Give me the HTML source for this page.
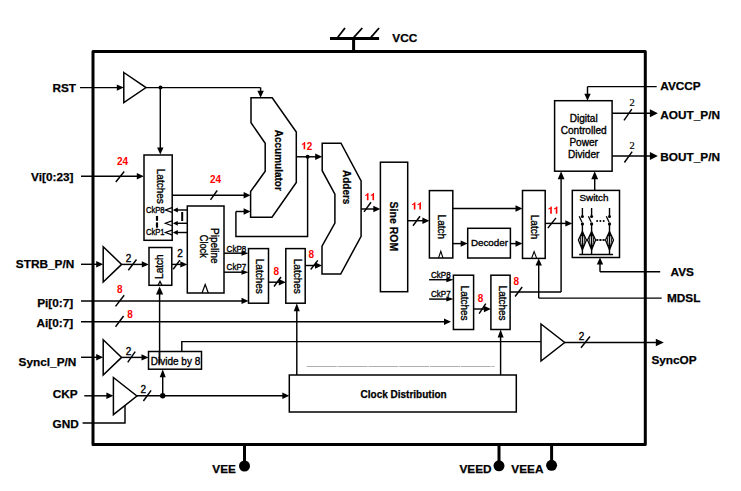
<!DOCTYPE html>
<html><head><meta charset="utf-8"><style>
html,body{margin:0;padding:0;background:#fff;}
svg{display:block;}
</style></head><body>
<svg width="741" height="491" viewBox="0 0 741 491">
<rect width="741" height="491" fill="#fff"/>
<rect x="93" y="51.4" width="552.3" height="393" fill="none" stroke="#000" stroke-width="3" stroke-linejoin="round"/>
<line x1="353.6" y1="38.5" x2="353.6" y2="51" stroke="#000" stroke-width="3"/>
<line x1="330" y1="38.5" x2="379.1" y2="38.5" stroke="#000" stroke-width="3"/>
<line x1="337.8" y1="37.3" x2="345" y2="28" stroke="#000" stroke-width="1.8"/>
<line x1="353.8" y1="37.3" x2="362.3" y2="28" stroke="#000" stroke-width="1.8"/>
<line x1="370.9" y1="37.3" x2="379.1" y2="28" stroke="#000" stroke-width="1.8"/>
<text x="392.3" y="42" font-family="Liberation Sans" font-size="11.8" font-weight="bold" text-anchor="start" fill="#000" stroke="#000" stroke-width="0.25">VCC</text>
<text x="76" y="92" font-family="Liberation Sans" font-size="11.8" font-weight="bold" text-anchor="end" fill="#000" stroke="#000" stroke-width="0.25">RST</text>
<line x1="80" y1="87.6" x2="117.8" y2="87.6" stroke="#000" stroke-width="1.45"/>
<polygon points="123.8,87.6 116.8,84.39999999999999 116.8,90.8" fill="#000"/>
<polygon points="123.8,72.5 146,87.6 123.8,102.7" fill="none" stroke="#000" stroke-width="1.5" stroke-linejoin="miter"/>
<line x1="146" y1="87.6" x2="260.6" y2="87.6" stroke="#000" stroke-width="1.45"/>
<circle cx="160.5" cy="87.6" r="2" fill="#000"/>
<line x1="260.6" y1="87.5" x2="260.6" y2="91.7" stroke="#000" stroke-width="1.45"/>
<polygon points="260.6,97.7 257.40000000000003,90.7 263.8,90.7" fill="#000"/>
<line x1="160.3" y1="87.5" x2="160.3" y2="148.6" stroke="#000" stroke-width="1.45"/>
<polygon points="160.3,154.6 157.10000000000002,147.6 163.5,147.6" fill="#000"/>
<text x="73.5" y="180.5" font-family="Liberation Sans" font-size="11.8" font-weight="bold" text-anchor="end" fill="#000" stroke="#000" stroke-width="0.25">Vi[0:23]</text>
<line x1="81" y1="176.2" x2="137.8" y2="176.2" stroke="#000" stroke-width="1.45"/>
<polygon points="143.8,176.2 136.8,173.0 136.8,179.39999999999998" fill="#000"/>
<line x1="115.8" y1="182" x2="124.2" y2="171.5" stroke="#000" stroke-width="1.45"/>
<text x="117.0" y="164.5" font-family="Liberation Sans" font-size="10" font-weight="bold" text-anchor="start" fill="#ff0000" stroke="#ff0000" stroke-width="0">2</text>
<text x="122.56" y="164.5" font-family="Liberation Sans" font-size="10" font-weight="bold" text-anchor="start" fill="#ff0000" stroke="#ff0000" stroke-width="0">4</text>
<rect x="144" y="155" width="28.19999999999999" height="85.30000000000001" fill="none" stroke="#000" stroke-width="1.5"/>
<text x="0" y="0" font-family="Liberation Sans" font-size="10" font-weight="normal" text-anchor="middle" fill="#000" stroke="#000" stroke-width="0.35" transform="translate(156.7,186.3) rotate(90)">Latches</text>
<text x="146" y="212.8" font-family="Liberation Sans" font-size="8.8" font-weight="normal" text-anchor="start" fill="#000" stroke="#000" stroke-width="0.35" textLength="18.6" lengthAdjust="spacingAndGlyphs">CkP8</text>
<text x="146" y="235.2" font-family="Liberation Sans" font-size="8.8" font-weight="normal" text-anchor="start" fill="#000" stroke="#000" stroke-width="0.35" textLength="18.6" lengthAdjust="spacingAndGlyphs">CkP1</text>
<polyline points="172,207.6 165.4,210 172,212.4" fill="none" stroke="#000" stroke-width="1.2" stroke-linejoin="miter"/>
<line x1="187.3" y1="210" x2="176.8" y2="210" stroke="#000" stroke-width="1.45"/>
<polygon points="172.8,210 177.8,207.6 177.8,212.4" fill="#000"/>
<polyline points="172,220.9 165.4,223.3 172,225.70000000000002" fill="none" stroke="#000" stroke-width="1.2" stroke-linejoin="miter"/>
<line x1="187.3" y1="223.3" x2="176.8" y2="223.3" stroke="#000" stroke-width="1.45"/>
<polygon points="172.8,223.3 177.8,220.9 177.8,225.70000000000002" fill="#000"/>
<polyline points="172,230.1 165.4,232.5 172,234.9" fill="none" stroke="#000" stroke-width="1.2" stroke-linejoin="miter"/>
<line x1="187.3" y1="232.5" x2="176.8" y2="232.5" stroke="#000" stroke-width="1.45"/>
<polygon points="172.8,232.5 177.8,230.1 177.8,234.9" fill="#000"/>
<line x1="157" y1="216" x2="157" y2="220.8" stroke="#000" stroke-width="2.2"/>
<line x1="157" y1="222.4" x2="157" y2="227.7" stroke="#000" stroke-width="2.2"/>
<line x1="182.2" y1="212" x2="182.2" y2="221" stroke="#000" stroke-width="2"/>
<line x1="172.2" y1="195.2" x2="244.6" y2="195.2" stroke="#000" stroke-width="1.45"/>
<polygon points="250.6,195.2 243.6,192.0 243.6,198.39999999999998" fill="#000"/>
<line x1="210.5" y1="199.8" x2="217.2" y2="190.5" stroke="#000" stroke-width="1.45"/>
<text x="210.0" y="183.0" font-family="Liberation Sans" font-size="10" font-weight="bold" text-anchor="start" fill="#ff0000" stroke="#ff0000" stroke-width="0">2</text>
<text x="215.56" y="183.0" font-family="Liberation Sans" font-size="10" font-weight="bold" text-anchor="start" fill="#ff0000" stroke="#ff0000" stroke-width="0">4</text>
<rect x="187.3" y="206" width="36.69999999999999" height="87" fill="none" stroke="#000" stroke-width="1.5"/>
<text x="0" y="0" font-family="Liberation Sans" font-size="10" font-weight="normal" text-anchor="middle" fill="#000" stroke="#000" stroke-width="0.35" transform="translate(211.3,245.9) rotate(90)">Pipeline</text>
<text x="0" y="0" font-family="Liberation Sans" font-size="10" font-weight="normal" text-anchor="middle" fill="#000" stroke="#000" stroke-width="0.35" transform="translate(200,246.3) rotate(90)" textLength="23" lengthAdjust="spacingAndGlyphs">Clock</text>
<polyline points="202,293 205.2,284.5 208.3,293" fill="none" stroke="#000" stroke-width="1.2" stroke-linejoin="miter"/>
<text x="226.6" y="251.6" font-family="Liberation Sans" font-size="8.8" font-weight="normal" text-anchor="start" fill="#000" stroke="#000" stroke-width="0.35" textLength="19.6" lengthAdjust="spacingAndGlyphs">CkP8</text>
<line x1="224" y1="253.2" x2="242.5" y2="253.2" stroke="#000" stroke-width="1.45"/>
<polygon points="248.5,253.2 241.5,250.7 241.5,255.7" fill="#000"/>
<text x="226.6" y="270.2" font-family="Liberation Sans" font-size="8.8" font-weight="normal" text-anchor="start" fill="#000" stroke="#000" stroke-width="0.35" textLength="19.6" lengthAdjust="spacingAndGlyphs">CkP7</text>
<line x1="224" y1="272.2" x2="242.5" y2="272.2" stroke="#000" stroke-width="1.45"/>
<polygon points="248.5,272.2 241.5,269.7 241.5,274.7" fill="#000"/>
<text x="74.2" y="267.8" font-family="Liberation Sans" font-size="11.8" font-weight="bold" text-anchor="end" fill="#000" stroke="#000" stroke-width="0.25">STRB_P/N</text>
<line x1="81" y1="264.3" x2="97.2" y2="264.3" stroke="#000" stroke-width="1.45"/>
<polygon points="103.2,264.3 96.2,261.1 96.2,267.5" fill="#000"/>
<polygon points="103.2,246.7 121.6,264.4 103.2,282" fill="none" stroke="#000" stroke-width="1.5" stroke-linejoin="miter"/>
<line x1="121.6" y1="264.4" x2="142.8" y2="264.4" stroke="#000" stroke-width="1.45"/>
<polygon points="148.8,264.4 141.8,261.2 141.8,267.59999999999997" fill="#000"/>
<text x="125.7" y="261.6" font-family="Liberation Sans" font-size="10" font-weight="normal" text-anchor="start" fill="#000" stroke="#000" stroke-width="0.35">2</text>
<line x1="128.3" y1="270.3" x2="136.5" y2="259.5" stroke="#000" stroke-width="1.45"/>
<rect x="149" y="247.5" width="22.80000000000001" height="37.80000000000001" fill="none" stroke="#000" stroke-width="1.5"/>
<text x="0" y="0" font-family="Liberation Sans" font-size="10" font-weight="normal" text-anchor="middle" fill="#000" stroke="#000" stroke-width="0.35" transform="translate(163.2,266.7) rotate(-90)">Latch</text>
<polyline points="158.1,285.3 160,281.4 161.9,285.3" fill="none" stroke="#000" stroke-width="1.3" stroke-linejoin="miter"/>
<line x1="171.8" y1="264.4" x2="181.3" y2="264.4" stroke="#000" stroke-width="1.45"/>
<polygon points="187.3,264.4 180.3,261.2 180.3,267.59999999999997" fill="#000"/>
<line x1="173.2" y1="269.3" x2="179.9" y2="260.1" stroke="#000" stroke-width="1.45"/>
<text x="177.3" y="257" font-family="Liberation Sans" font-size="10" font-weight="normal" text-anchor="start" fill="#000" stroke="#000" stroke-width="0.35">2</text>
<line x1="159.6" y1="363.5" x2="159.6" y2="293.6" stroke="#000" stroke-width="1.45"/>
<polygon points="159.6,286.6 156.0,294.6 163.2,294.6" fill="#000"/>
<text x="73.2" y="307" font-family="Liberation Sans" font-size="11.8" font-weight="bold" text-anchor="end" fill="#000" stroke="#000" stroke-width="0.25">Pi[0:7]</text>
<line x1="81" y1="300.9" x2="242.5" y2="300.9" stroke="#000" stroke-width="1.45"/>
<polygon points="248.5,300.9 241.5,297.7 241.5,304.09999999999997" fill="#000"/>
<text x="117.0" y="292.5" font-family="Liberation Sans" font-size="10" font-weight="bold" text-anchor="start" fill="#ff0000" stroke="#ff0000" stroke-width="0">8</text>
<line x1="115.5" y1="306.4" x2="124.2" y2="295.2" stroke="#000" stroke-width="1.45"/>
<text x="73.2" y="327.4" font-family="Liberation Sans" font-size="11.8" font-weight="bold" text-anchor="end" fill="#000" stroke="#000" stroke-width="0.25">Ai[0:7]</text>
<line x1="81" y1="321.8" x2="445" y2="321.8" stroke="#000" stroke-width="1.45"/>
<polygon points="451,321.8 444,318.6 444,325.0" fill="#000"/>
<text x="127.3" y="317.5" font-family="Liberation Sans" font-size="10" font-weight="bold" text-anchor="start" fill="#ff0000" stroke="#ff0000" stroke-width="0">8</text>
<line x1="115.5" y1="326.8" x2="123.6" y2="316" stroke="#000" stroke-width="1.45"/>
<text x="76.3" y="366" font-family="Liberation Sans" font-size="11.8" font-weight="bold" text-anchor="end" fill="#000" stroke="#000" stroke-width="0.25">Syncl_P/N</text>
<line x1="81" y1="357.3" x2="97.2" y2="357.3" stroke="#000" stroke-width="1.45"/>
<polygon points="103.2,357.3 96.2,354.1 96.2,360.5" fill="#000"/>
<polygon points="103.2,339.8 121.6,357.4 103.2,375" fill="none" stroke="#000" stroke-width="1.5" stroke-linejoin="miter"/>
<line x1="121.6" y1="357.4" x2="142.5" y2="357.4" stroke="#000" stroke-width="1.45"/>
<polygon points="148.5,357.4 141.5,354.2 141.5,360.59999999999997" fill="#000"/>
<text x="125.7" y="355" font-family="Liberation Sans" font-size="10" font-weight="normal" text-anchor="start" fill="#000" stroke="#000" stroke-width="0.35">2</text>
<line x1="127.7" y1="362.4" x2="135.2" y2="351.6" stroke="#000" stroke-width="1.45"/>
<rect x="148.5" y="351.5" width="53.0" height="17.69999999999999" fill="none" stroke="#000" stroke-width="1.5"/>
<text x="150.8" y="364.6" font-family="Liberation Sans" font-size="10" font-weight="normal" text-anchor="start" fill="#000" stroke="#000" stroke-width="0.35">Divide by 8</text>
<line x1="159.4" y1="351.5" x2="159.4" y2="363.5" stroke="#000" stroke-width="1.45"/>
<polyline points="181.8,351.5 181.8,341.6 541,341.6" fill="none" stroke="#000" stroke-width="1.45" stroke-linejoin="miter"/>
<text x="77.7" y="398.2" font-family="Liberation Sans" font-size="11.8" font-weight="bold" text-anchor="end" fill="#000" stroke="#000" stroke-width="0.25">CKP</text>
<line x1="84.3" y1="395.8" x2="107.4" y2="395.8" stroke="#000" stroke-width="1.45"/>
<polygon points="113.4,395.8 106.4,392.6 106.4,399.0" fill="#000"/>
<polygon points="113.4,377.5 136.9,396 113.4,414.7" fill="none" stroke="#000" stroke-width="1.5" stroke-linejoin="miter"/>
<line x1="136.9" y1="395.8" x2="283.3" y2="395.8" stroke="#000" stroke-width="1.45"/>
<polygon points="289.3,395.8 282.3,392.6 282.3,399.0" fill="#000"/>
<text x="140.5" y="393.3" font-family="Liberation Sans" font-size="10" font-weight="normal" text-anchor="start" fill="#000" stroke="#000" stroke-width="0.35">2</text>
<line x1="143.4" y1="401" x2="151.1" y2="390.3" stroke="#000" stroke-width="1.45"/>
<circle cx="162.7" cy="395.8" r="2.7" fill="#000"/>
<line x1="162.7" y1="395.8" x2="162.7" y2="376.2" stroke="#000" stroke-width="1.45"/>
<polygon points="162.7,369.2 159.7,377.2 165.7,377.2" fill="#000"/>
<text x="78.7" y="427.5" font-family="Liberation Sans" font-size="11.8" font-weight="bold" text-anchor="end" fill="#000" stroke="#000" stroke-width="0.25">GND</text>
<polyline points="82.6,423 125,423 125,405.5" fill="none" stroke="#000" stroke-width="1.45" stroke-linejoin="miter"/>
<polygon points="251,97.7 272.2,97.7 296.3,132 296.3,182.4 272,217.2 250.6,217.2 250.6,191.6 265.2,171.2 265.2,143.2 251,122.8" fill="none" stroke="#000" stroke-width="1.5" stroke-linejoin="miter"/>
<text x="0" y="0" font-family="Liberation Sans" font-size="10" font-weight="bold" text-anchor="middle" fill="#000" stroke="#000" stroke-width="0.25" transform="translate(274.6,160.3) rotate(90)">Accumulator</text>
<line x1="235.9" y1="211.5" x2="244.6" y2="211.5" stroke="#000" stroke-width="1.45"/>
<polygon points="250.6,211.5 243.6,208.3 243.6,214.7" fill="#000"/>
<polyline points="235.9,211.5 235.9,236.4 307.6,236.4 307.6,156.8" fill="none" stroke="#000" stroke-width="1.45" stroke-linejoin="miter"/>
<line x1="296.3" y1="156.8" x2="316.2" y2="156.8" stroke="#000" stroke-width="1.45"/>
<polygon points="322.2,156.8 315.2,153.60000000000002 315.2,160.0" fill="#000"/>
<circle cx="307.6" cy="156.8" r="2" fill="#000"/>
<polygon points="303.59,149.20 305.21,149.20 305.21,142.04 304.28,142.04 304.03,142.46 303.55,143.00 302.76,143.49 301.87,143.88 301.87,145.05 302.57,144.81 303.25,144.46 303.59,144.17" fill="#ff0000"/>
<text x="306.86" y="149.8" font-family="Liberation Sans" font-size="10" font-weight="bold" text-anchor="start" fill="#ff0000" stroke="#ff0000" stroke-width="0">2</text>
<polygon points="322.2,143.2 341,143.2 361.1,181 361.1,236.3 340.7,274 322,274 322,246.1 334.9,223 334.9,194.2 322.2,170.7" fill="none" stroke="#000" stroke-width="1.5" stroke-linejoin="miter"/>
<text x="0" y="0" font-family="Liberation Sans" font-size="10" font-weight="bold" text-anchor="middle" fill="#000" stroke="#000" stroke-width="0.25" transform="translate(343.2,187.2) rotate(90)">Adders</text>
<line x1="361.1" y1="209" x2="374.3" y2="209" stroke="#000" stroke-width="1.45"/>
<polygon points="380.3,209 373.3,205.8 373.3,212.2" fill="#000"/>
<line x1="364" y1="211.9" x2="371" y2="202.3" stroke="#000" stroke-width="1.45"/>
<polygon points="366.89,200.20 368.51,200.20 368.51,193.04 367.58,193.04 367.33,193.46 366.85,194.00 366.06,194.49 365.17,194.88 365.17,196.05 365.87,195.81 366.55,195.46 366.89,195.17" fill="#ff0000"/>
<polygon points="372.45,200.20 374.07,200.20 374.07,193.04 373.14,193.04 372.89,193.46 372.41,194.00 371.62,194.49 370.73,194.88 370.73,196.05 371.43,195.81 372.11,195.46 372.45,195.17" fill="#ff0000"/>
<line x1="305.2" y1="265.5" x2="316" y2="265.5" stroke="#000" stroke-width="1.45"/>
<polygon points="322,265.5 315,262.3 315,268.7" fill="#000"/>
<text x="308.6" y="257.8" font-family="Liberation Sans" font-size="10" font-weight="bold" text-anchor="start" fill="#ff0000" stroke="#ff0000" stroke-width="0">8</text>
<line x1="310.7" y1="269.5" x2="317.8" y2="260.4" stroke="#000" stroke-width="1.45"/>
<rect x="248.5" y="248.6" width="20.0" height="54.599999999999994" fill="none" stroke="#000" stroke-width="1.5"/>
<text x="0" y="0" font-family="Liberation Sans" font-size="10" font-weight="normal" text-anchor="middle" fill="#000" stroke="#000" stroke-width="0.35" transform="translate(255.8,276.3) rotate(90)">Latches</text>
<rect x="285.8" y="248.6" width="19.399999999999977" height="54.599999999999994" fill="none" stroke="#000" stroke-width="1.5"/>
<text x="0" y="0" font-family="Liberation Sans" font-size="10" font-weight="normal" text-anchor="middle" fill="#000" stroke="#000" stroke-width="0.35" transform="translate(293.5,276.3) rotate(90)">Latches</text>
<line x1="268.5" y1="282.2" x2="279.8" y2="282.2" stroke="#000" stroke-width="1.45"/>
<polygon points="285.8,282.2 278.8,279.0 278.8,285.4" fill="#000"/>
<text x="273.4" y="274.5" font-family="Liberation Sans" font-size="10" font-weight="bold" text-anchor="start" fill="#ff0000" stroke="#ff0000" stroke-width="0">8</text>
<line x1="274" y1="286.5" x2="281" y2="277" stroke="#000" stroke-width="1.45"/>
<line x1="296.8" y1="375" x2="296.8" y2="310.2" stroke="#000" stroke-width="1.45"/>
<polygon points="296.8,303.2 293.8,311.2 299.8,311.2" fill="#000"/>
<rect x="380.4" y="162.2" width="27.30000000000001" height="129.5" fill="none" stroke="#000" stroke-width="1.5"/>
<text x="0" y="0" font-family="Liberation Sans" font-size="10.8" font-weight="bold" text-anchor="middle" fill="#000" stroke="#000" stroke-width="0.25" transform="translate(390,226.4) rotate(90)" textLength="49.6" lengthAdjust="spacingAndGlyphs">Sine ROM</text>
<line x1="407.7" y1="220.7" x2="423.4" y2="220.7" stroke="#000" stroke-width="1.45"/>
<polygon points="429.4,220.7 422.4,217.5 422.4,223.89999999999998" fill="#000"/>
<polygon points="413.79,209.40 415.41,209.40 415.41,202.24 414.48,202.24 414.23,202.66 413.75,203.20 412.96,203.69 412.07,204.08 412.07,205.25 412.77,205.01 413.45,204.66 413.79,204.37" fill="#ff0000"/>
<polygon points="419.35,209.40 420.97,209.40 420.97,202.24 420.04,202.24 419.79,202.66 419.31,203.20 418.52,203.69 417.63,204.08 417.63,205.25 418.33,205.01 419.01,204.66 419.35,204.37" fill="#ff0000"/>
<line x1="413" y1="225.8" x2="420" y2="216.3" stroke="#000" stroke-width="1.45"/>
<rect x="429.4" y="190.6" width="23.400000000000034" height="67.4" fill="none" stroke="#000" stroke-width="1.5"/>
<text x="0" y="0" font-family="Liberation Sans" font-size="10" font-weight="normal" text-anchor="middle" fill="#000" stroke="#000" stroke-width="0.35" transform="translate(438.4,226.8) rotate(90)">Latch</text>
<polyline points="438.5,258 440.8,251.3 443,258" fill="none" stroke="#000" stroke-width="1.1" stroke-linejoin="miter"/>
<line x1="452.8" y1="208.5" x2="516.5" y2="208.5" stroke="#000" stroke-width="1.45"/>
<polygon points="522.5,208.5 515.5,205.3 515.5,211.7" fill="#000"/>
<line x1="452.8" y1="243.6" x2="461.7" y2="243.6" stroke="#000" stroke-width="1.45"/>
<polygon points="467.7,243.6 460.7,240.4 460.7,246.79999999999998" fill="#000"/>
<rect x="467.7" y="228.3" width="42.69999999999999" height="29.69999999999999" fill="none" stroke="#000" stroke-width="1.5"/>
<text x="489.4" y="246" font-family="Liberation Sans" font-size="9.8" font-weight="normal" text-anchor="middle" fill="#000" stroke="#000" stroke-width="0.35">Decoder</text>
<line x1="510.4" y1="243.6" x2="516.5" y2="243.6" stroke="#000" stroke-width="1.45"/>
<polygon points="522.5,243.6 515.5,240.4 515.5,246.79999999999998" fill="#000"/>
<rect x="522.5" y="190.5" width="22.700000000000045" height="67.89999999999998" fill="none" stroke="#000" stroke-width="1.5"/>
<text x="0" y="0" font-family="Liberation Sans" font-size="10" font-weight="normal" text-anchor="middle" fill="#000" stroke="#000" stroke-width="0.35" transform="translate(531.4,227) rotate(90)">Latch</text>
<polyline points="531.6,258.4 534.1,251.5 536.7,258.4" fill="none" stroke="#000" stroke-width="1.1" stroke-linejoin="miter"/>
<line x1="545.2" y1="223.4" x2="566.3" y2="223.4" stroke="#000" stroke-width="1.45"/>
<polygon points="572.3,223.4 565.3,220.20000000000002 565.3,226.6" fill="#000"/>
<polygon points="550.19,213.70 551.81,213.70 551.81,206.54 550.88,206.54 550.63,206.96 550.15,207.50 549.36,207.99 548.47,208.38 548.47,209.55 549.17,209.31 549.85,208.96 550.19,208.67" fill="#ff0000"/>
<polygon points="555.75,213.70 557.37,213.70 557.37,206.54 556.44,206.54 556.19,206.96 555.71,207.50 554.92,207.99 554.03,208.38 554.03,209.55 554.73,209.31 555.41,208.96 555.75,208.67" fill="#ff0000"/>
<line x1="547.9" y1="228" x2="556" y2="217.9" stroke="#000" stroke-width="1.45"/>
<polyline points="661.7,298.1 538.7,298.1" fill="none" stroke="#000" stroke-width="1.45" stroke-linejoin="miter"/>
<line x1="538.7" y1="298.1" x2="538.7" y2="264.4" stroke="#000" stroke-width="1.45"/>
<polygon points="538.7,258.4 535.5,265.4 541.9000000000001,265.4" fill="#000"/>
<rect x="572.3" y="190.4" width="47.200000000000045" height="67.1" fill="none" stroke="#000" stroke-width="1.5"/>
<text x="594" y="201.4" font-family="Liberation Sans" font-size="9.9" font-weight="normal" text-anchor="middle" fill="#000" stroke="#000" stroke-width="0.35">Switch</text>
<line x1="594.7" y1="190.4" x2="594.7" y2="178.2" stroke="#000" stroke-width="1.45"/>
<polygon points="594.7,171.2 591.3000000000001,179.2 598.1,179.2" fill="#000"/>
<polyline points="660.2,271.8 600,271.8" fill="none" stroke="#000" stroke-width="1.45" stroke-linejoin="miter"/>
<line x1="600" y1="271.8" x2="600" y2="263.5" stroke="#000" stroke-width="1.45"/>
<polygon points="600,257.5 596.8,264.5 603.2,264.5" fill="#000"/>
<text x="670.6" y="276.2" font-family="Liberation Sans" font-size="11.8" font-weight="bold" text-anchor="start" fill="#000" stroke="#000" stroke-width="0.25">AVS</text>
<line x1="582.4" y1="208" x2="582.4" y2="216" stroke="#000" stroke-width="1.4"/>
<circle cx="582.4" cy="216.6" r="1.5" fill="#000"/>
<line x1="579.1999999999999" y1="216.3" x2="581.9" y2="222" stroke="#000" stroke-width="1.3"/>
<circle cx="582.4" cy="223.9" r="1.6" fill="#000"/>
<line x1="582.4" y1="223.9" x2="582.4" y2="254.5" stroke="#000" stroke-width="1.4"/>
<polygon points="582.4,231.5 586.4,240 582.4,249.8 578.4,240" fill="none" stroke="#000" stroke-width="1.3"/>
<ellipse cx="582.4" cy="240" rx="2" ry="6.2" fill="none" stroke="#000" stroke-width="0.9"/>
<polygon points="582.4,232 584.0,236 580.8,236" fill="#000"/>
<polygon points="582.4,249 584.0,245 580.8,245" fill="#000"/>
<line x1="591.6" y1="208" x2="591.6" y2="216" stroke="#000" stroke-width="1.4"/>
<circle cx="591.6" cy="216.6" r="1.5" fill="#000"/>
<line x1="588.4" y1="216.3" x2="591.1" y2="222" stroke="#000" stroke-width="1.3"/>
<circle cx="591.6" cy="223.9" r="1.6" fill="#000"/>
<line x1="591.6" y1="223.9" x2="591.6" y2="254.5" stroke="#000" stroke-width="1.4"/>
<polygon points="591.6,231.5 595.6,240 591.6,249.8 587.6,240" fill="none" stroke="#000" stroke-width="1.3"/>
<ellipse cx="591.6" cy="240" rx="2" ry="6.2" fill="none" stroke="#000" stroke-width="0.9"/>
<polygon points="591.6,232 593.2,236 590.0,236" fill="#000"/>
<polygon points="591.6,249 593.2,245 590.0,245" fill="#000"/>
<line x1="609.5" y1="208" x2="609.5" y2="216" stroke="#000" stroke-width="1.4"/>
<circle cx="609.5" cy="216.6" r="1.5" fill="#000"/>
<line x1="606.3" y1="216.3" x2="609.0" y2="222" stroke="#000" stroke-width="1.3"/>
<circle cx="609.5" cy="223.9" r="1.6" fill="#000"/>
<line x1="609.5" y1="223.9" x2="609.5" y2="254.5" stroke="#000" stroke-width="1.4"/>
<polygon points="609.5,231.5 613.5,240 609.5,249.8 605.5,240" fill="none" stroke="#000" stroke-width="1.3"/>
<ellipse cx="609.5" cy="240" rx="2" ry="6.2" fill="none" stroke="#000" stroke-width="0.9"/>
<polygon points="609.5,232 611.1,236 607.9,236" fill="#000"/>
<polygon points="609.5,249 611.1,245 607.9,245" fill="#000"/>
<line x1="579.2" y1="254.5" x2="613.1" y2="254.5" stroke="#000" stroke-width="1.3"/>
<line x1="586" y1="240" x2="588" y2="240" stroke="#000" stroke-width="1.2"/>
<circle cx="597.1" cy="240" r="1.0" fill="#000"/>
<circle cx="597.1" cy="221" r="1.0" fill="#000"/>
<circle cx="600.4" cy="240" r="1.0" fill="#000"/>
<circle cx="600.4" cy="221" r="1.0" fill="#000"/>
<circle cx="603.7" cy="240" r="1.0" fill="#000"/>
<circle cx="603.7" cy="221" r="1.0" fill="#000"/>
<line x1="596.5" y1="240" x2="605" y2="240" stroke="#000" stroke-width="0.7"/>
<rect x="554.6" y="100.7" width="57.5" height="70.49999999999999" fill="none" stroke="#000" stroke-width="1.5"/>
<text x="583.7" y="122.2" font-family="Liberation Sans" font-size="10.1" font-weight="normal" text-anchor="middle" fill="#000" stroke="#000" stroke-width="0.35">Digital</text>
<text x="583.7" y="134" font-family="Liberation Sans" font-size="10.1" font-weight="normal" text-anchor="middle" fill="#000" stroke="#000" stroke-width="0.35">Controlled</text>
<text x="583.7" y="146.2" font-family="Liberation Sans" font-size="10.1" font-weight="normal" text-anchor="middle" fill="#000" stroke="#000" stroke-width="0.35">Power</text>
<text x="583.7" y="158" font-family="Liberation Sans" font-size="10.1" font-weight="normal" text-anchor="middle" fill="#000" stroke="#000" stroke-width="0.35">Divider</text>
<polyline points="656.7,86.6 587.5,86.6" fill="none" stroke="#000" stroke-width="1.45" stroke-linejoin="miter"/>
<line x1="587.5" y1="86.6" x2="587.5" y2="94.7" stroke="#000" stroke-width="1.45"/>
<polygon points="587.5,100.7 584.3,93.7 590.7,93.7" fill="#000"/>
<text x="660.3" y="89.8" font-family="Liberation Sans" font-size="11.8" font-weight="bold" text-anchor="start" fill="#000" stroke="#000" stroke-width="0.25">AVCCP</text>
<line x1="612.1" y1="113.2" x2="650.9" y2="113.2" stroke="#000" stroke-width="1.45"/>
<polygon points="657.9,113.2 649.9,109.2 649.9,117.2" fill="#000"/>
<line x1="624" y1="120.4" x2="631.8" y2="109.2" stroke="#000" stroke-width="1.45"/>
<text x="629.5" y="105.5" font-family="Liberation Serif" font-size="10.5" font-weight="normal" text-anchor="start" fill="#000" stroke="#000" stroke-width="0.2">2</text>
<text x="660.3" y="118.7" font-family="Liberation Sans" font-size="11.8" font-weight="bold" text-anchor="start" fill="#000" stroke="#000" stroke-width="0.25">AOUT_P/N</text>
<line x1="612.1" y1="155.9" x2="650.9" y2="155.9" stroke="#000" stroke-width="1.45"/>
<polygon points="657.9,155.9 649.9,151.9 649.9,159.9" fill="#000"/>
<line x1="624.4" y1="162.5" x2="632.2" y2="151.7" stroke="#000" stroke-width="1.45"/>
<text x="629.5" y="148.5" font-family="Liberation Serif" font-size="10.5" font-weight="normal" text-anchor="start" fill="#000" stroke="#000" stroke-width="0.2">2</text>
<text x="660.3" y="160.7" font-family="Liberation Sans" font-size="11.8" font-weight="bold" text-anchor="start" fill="#000" stroke="#000" stroke-width="0.25">BOUT_P/N</text>
<polyline points="510.1,292 561.1,292" fill="none" stroke="#000" stroke-width="1.45" stroke-linejoin="miter"/>
<line x1="561.1" y1="292" x2="561.1" y2="178.2" stroke="#000" stroke-width="1.45"/>
<polygon points="561.1,171.2 557.7,179.2 564.5,179.2" fill="#000"/>
<rect x="453.4" y="275.2" width="20.200000000000045" height="54.30000000000001" fill="none" stroke="#000" stroke-width="1.5"/>
<text x="0" y="0" font-family="Liberation Sans" font-size="10" font-weight="normal" text-anchor="middle" fill="#000" stroke="#000" stroke-width="0.35" transform="translate(461.3,303.1) rotate(90)">Latches</text>
<rect x="490.9" y="275.2" width="19.200000000000045" height="54.30000000000001" fill="none" stroke="#000" stroke-width="1.5"/>
<text x="0" y="0" font-family="Liberation Sans" font-size="10" font-weight="normal" text-anchor="middle" fill="#000" stroke="#000" stroke-width="0.35" transform="translate(498.7,303.1) rotate(90)">Latches</text>
<text x="431" y="278.2" font-family="Liberation Sans" font-size="8.8" font-weight="normal" text-anchor="start" fill="#000" stroke="#000" stroke-width="0.35" textLength="19.6" lengthAdjust="spacingAndGlyphs">CkP8</text>
<line x1="429.1" y1="279.7" x2="447.4" y2="279.7" stroke="#000" stroke-width="1.45"/>
<polygon points="453.4,279.7 446.4,277.2 446.4,282.2" fill="#000"/>
<text x="431" y="297" font-family="Liberation Sans" font-size="8.8" font-weight="normal" text-anchor="start" fill="#000" stroke="#000" stroke-width="0.35" textLength="19.6" lengthAdjust="spacingAndGlyphs">CkP7</text>
<line x1="429.1" y1="299.1" x2="447.4" y2="299.1" stroke="#000" stroke-width="1.45"/>
<polygon points="453.4,299.1 446.4,296.6 446.4,301.6" fill="#000"/>
<line x1="473.6" y1="309" x2="484.9" y2="309" stroke="#000" stroke-width="1.45"/>
<polygon points="490.9,309 483.9,305.8 483.9,312.2" fill="#000"/>
<text x="477.7" y="301.7" font-family="Liberation Sans" font-size="10" font-weight="bold" text-anchor="start" fill="#ff0000" stroke="#ff0000" stroke-width="0">8</text>
<line x1="479.1" y1="313.7" x2="485.8" y2="303.6" stroke="#000" stroke-width="1.45"/>
<text x="513.5" y="284.9" font-family="Liberation Sans" font-size="10" font-weight="bold" text-anchor="start" fill="#ff0000" stroke="#ff0000" stroke-width="0">8</text>
<line x1="515.1" y1="296.5" x2="522.2" y2="287" stroke="#000" stroke-width="1.45"/>
<text x="667" y="302.3" font-family="Liberation Sans" font-size="11.8" font-weight="bold" text-anchor="start" fill="#000" stroke="#000" stroke-width="0.25">MDSL</text>
<rect x="289.3" y="375" width="226.99999999999994" height="37" fill="none" stroke="#000" stroke-width="1.5"/>
<text x="403.6" y="398" font-family="Liberation Sans" font-size="10" font-weight="bold" text-anchor="middle" fill="#000" stroke="#000" stroke-width="0.25">Clock Distribution</text>
<line x1="306.8" y1="366.5" x2="494.6" y2="366.5" stroke="#999" stroke-width="0.8" stroke-dasharray="30 0.8"/>
<line x1="500.6" y1="375" x2="500.6" y2="336.5" stroke="#000" stroke-width="1.45"/>
<polygon points="500.6,329.5 497.6,337.5 503.6,337.5" fill="#000"/>
<polygon points="541,324 564.7,342.5 541,361" fill="none" stroke="#000" stroke-width="1.5" stroke-linejoin="miter"/>
<line x1="564.7" y1="342.5" x2="656.8" y2="342.5" stroke="#000" stroke-width="1.45"/>
<polygon points="663.8,342.5 655.8,338.7 655.8,346.3" fill="#000"/>
<text x="578.8" y="339.5" font-family="Liberation Sans" font-size="10" font-weight="normal" text-anchor="start" fill="#000" stroke="#000" stroke-width="0.35">2</text>
<line x1="581" y1="347.8" x2="590" y2="336.5" stroke="#000" stroke-width="1.45"/>
<text x="651.4" y="363.6" font-family="Liberation Sans" font-size="11.8" font-weight="bold" text-anchor="start" fill="#000" stroke="#000" stroke-width="0.25">SyncOP</text>
<line x1="244.5" y1="444.4" x2="244.5" y2="466" stroke="#000" stroke-width="3"/>
<circle cx="244.5" cy="466" r="5.5" fill="#000"/>
<text x="212.3" y="472.6" font-family="Liberation Sans" font-size="11.8" font-weight="bold" text-anchor="start" fill="#000" stroke="#000" stroke-width="0.25">VEE</text>
<line x1="499" y1="444.4" x2="499" y2="465.8" stroke="#000" stroke-width="3"/>
<circle cx="499" cy="465.8" r="5.5" fill="#000"/>
<text x="459.4" y="472.6" font-family="Liberation Sans" font-size="11.8" font-weight="bold" text-anchor="start" fill="#000" stroke="#000" stroke-width="0.25">VEED</text>
<line x1="551.6" y1="444.4" x2="551.6" y2="465.3" stroke="#000" stroke-width="3"/>
<circle cx="551.6" cy="465.3" r="5.5" fill="#000"/>
<text x="511.3" y="472.6" font-family="Liberation Sans" font-size="11.8" font-weight="bold" text-anchor="start" fill="#000" stroke="#000" stroke-width="0.25">VEEA</text>
</svg></body></html>
